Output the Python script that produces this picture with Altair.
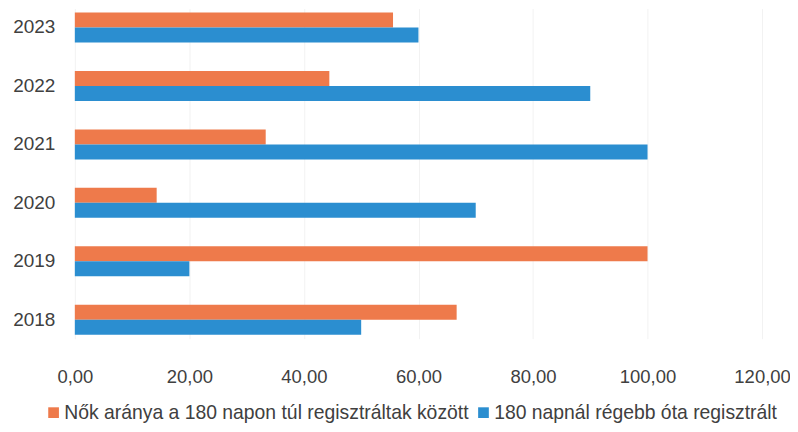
import altair as alt
import pandas as pd

years = ["2018", "2019", "2020", "2021", "2022", "2023"]
series_names = [
    "Nők aránya a 180 napon túl regisztráltak között",
    "180 napnál régebb óta regisztrált",
]
women_share = [66.67, 100.0, 14.29, 33.33, 44.44, 55.56]
long_registered = [50.0, 20.0, 70.0, 100.0, 90.0, 60.0]
colors = ["#EE7A4B", "#2B8ED0"]

rows = []
for i, y in enumerate(years):
    rows.append({"year": y, "series": series_names[0], "value": women_share[i]})
    rows.append({"year": y, "series": series_names[1], "value": long_registered[i]})
df = pd.DataFrame(rows)

font = "Liberation Sans"
txt = "#404040"

chart = (
    alt.Chart(df)
    .mark_bar()
    .encode(
        x=alt.X(
            "value:Q",
            scale=alt.Scale(domain=[0, 120], nice=False),
            axis=alt.Axis(
                values=[0, 20, 40, 60, 80, 100, 120],
                labelExpr="replace(format(datum.value, '.2f'), '.', ',')",
                title=None,
                domain=False,
                ticks=False,
                grid=True,
                gridColor="#f2f2f2",
                labelPadding=29,
                labelFontSize=18.5,
                labelFont=font,
                labelColor=txt,
                labelFlush=False,
            ),
        ),
        y=alt.Y(
            "year:N",
            sort=list(reversed(years)),
            scale=alt.Scale(paddingInner=0.487, paddingOuter=0.068),
            axis=alt.Axis(
                title=None,
                domain=False,
                ticks=False,
                grid=False,
                labelPadding=20,
                labelFontSize=19,
                labelFont=font,
                labelColor=txt,
            ),
        ),
        yOffset=alt.YOffset("series:N", sort=series_names),
        color=alt.Color(
            "series:N",
            scale=alt.Scale(domain=series_names, range=colors),
            legend=alt.Legend(
                title=None,
                orient="none",
                legendX=-31,
                legendY=395,
                direction="horizontal",
                symbolType="square",
                symbolSize=115,
                symbolStrokeWidth=0,
                labelFontSize=19.4,
                labelFont=font,
                labelColor=txt,
                labelLimit=600,
                columnPadding=5,
                labelOffset=1,
            ),
        ),
    )
    .properties(
        width=689,
        height=331,
        autosize=alt.AutoSizeParams(type="none"),
        padding={"left": 67, "top": 0, "right": 28, "bottom": 85},
    )
    .configure_view(stroke=None)
)

chart.save("out.html", embed_options={"renderer": "svg", "actions": False})
